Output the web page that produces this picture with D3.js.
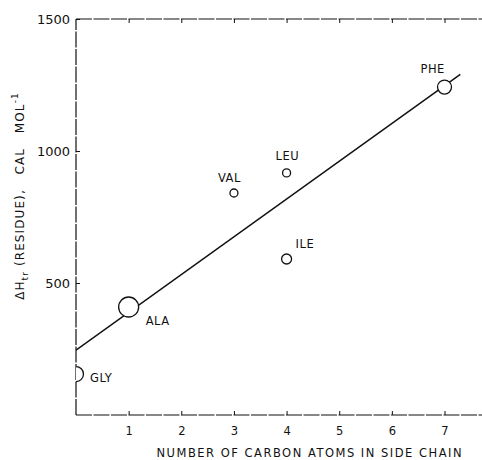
<!DOCTYPE html>
<html>
<head>
<meta charset="utf-8">
<script src="https://cdn.jsdelivr.net/npm/d3@7"></script>
<style>
  body { margin: 0; background: #fff; }
  svg text { font-family: "DejaVu Sans", sans-serif; fill: #111; }
</style>
</head>
<body>
<svg id="chart" width="482" height="460"></svg>
<script>
// residues: name, carbon atoms in side chain, enthalpy (cal/mol), symbol size
const residues = ['GLY', 'ALA', 'VAL', 'LEU', 'ILE', 'PHE'];
const carbons = [0, 1, 3, 4, 4, 7];
const enthalpy = [155, 409, 841, 917, 591, 1242];
const radius = [7.5, 10, 4, 4, 5, 7];

// fitted line end points
const fitX = [0, 7.3];
const fitY = [246, 1290];

const xTicks = [1, 2, 3, 4, 5, 6, 7];
const yTicks = [500, 1000, 1500];

const svg = d3.select('#chart');
const width = 482;
const height = 460;
const margin = { top: 19, right: -2, bottom: 45, left: 76 };

const x = d3.scaleLinear().domain([0, 7.75]).range([margin.left, width - margin.right]);
const y = d3.scaleLinear().domain([0, 1500]).range([height - margin.bottom, margin.top]);

const ink = '#111';

// clip for the plot area (GLY circle sits on the axis)
svg.append('clipPath').attr('id', 'plot-clip')
    .append('rect')
    .attr('x', x(0)).attr('y', y(1500))
    .attr('width', x(7.75) - x(0)).attr('height', y(0) - y(1500));

// frame
const frame = svg.append('g')
    .attr('fill', 'none')
    .attr('stroke', ink)
    .attr('stroke-width', 1.2)
    .attr('stroke-dasharray', '16,1.5');
frame.append('line').attr('x1', x(0)).attr('x2', x(7.75)).attr('y1', y(0)).attr('y2', y(0));
frame.append('line').attr('x1', x(0)).attr('x2', x(7.75)).attr('y1', y(1500)).attr('y2', y(1500));
frame.append('line').attr('x1', x(0)).attr('x2', x(0)).attr('y1', y(0)).attr('y2', y(1500));

// x axis: inward ticks, labels below
const xAxis = d3.axisBottom(x).tickValues(xTicks).tickSize(-4).tickPadding(12).tickFormat(d3.format('d'));
const gx = svg.append('g').attr('transform', `translate(0,${y(0)})`).call(xAxis);
gx.select('.domain').remove();
gx.selectAll('.tick line').attr('stroke', ink).attr('stroke-width', 1);
gx.selectAll('.tick text').attr('font-size', 11.5).attr('fill', ink);

// top ticks
const xTop = d3.axisTop(x).tickValues(xTicks).tickSize(-4).tickFormat('');
const gt = svg.append('g').attr('transform', `translate(0,${y(1500)})`).call(xTop);
gt.select('.domain').remove();
gt.selectAll('.tick line').attr('stroke', ink).attr('stroke-width', 1);

// y axis: inward ticks, labels left
const yAxis = d3.axisLeft(y).tickValues(yTicks).tickSize(-4).tickPadding(6).tickFormat(d3.format('d'));
const gy = svg.append('g').attr('transform', `translate(${x(0)},0)`).call(yAxis);
gy.select('.domain').remove();
gy.selectAll('.tick line').attr('stroke', ink).attr('stroke-width', 1);
gy.selectAll('.tick text').attr('font-size', 13).attr('fill', ink);

// fitted line
const plot = svg.append('g').attr('clip-path', 'url(#plot-clip)');
plot.append('path')
    .datum(fitX.map((d, i) => [d, fitY[i]]))
    .attr('fill', 'none')
    .attr('stroke', ink)
    .attr('stroke-width', 1.5)
    .attr('d', d3.line().x(d => x(d[0])).y(d => y(d[1])));

// residue points
const points = residues.map((name, i) => ({ name, c: carbons[i], h: enthalpy[i], r: radius[i] }));
plot.selectAll('circle')
    .data(points)
    .enter()
    .append('circle')
    .attr('cx', d => x(d.c))
    .attr('cy', d => y(d.h))
    .attr('r', d => d.r)
    .attr('fill', '#fff')
    .attr('stroke', ink)
    .attr('stroke-width', 1.3);

// label placement relative to each point
const labelOffset = {
    GLY: [14, 8], ALA: [17, 18], VAL: [-16, -11], LEU: [-11, -13],
    ILE: [9, -11], PHE: [-24, -14]
};
svg.selectAll('.pt-label')
    .data(points)
    .enter()
    .append('text')
    .attr('class', 'pt-label')
    .attr('x', d => x(d.c) + labelOffset[d.name][0])
    .attr('y', d => y(d.h) + labelOffset[d.name][1])
    .attr('font-size', 11.5)
    .attr('letter-spacing', 0.5)
    .text(d => d.name);

// axis titles
svg.append('text')
    .attr('x', 309)
    .attr('y', 457)
    .attr('text-anchor', 'middle')
    .attr('font-size', 11.5)
    .attr('textLength', 305)
    .attr('lengthAdjust', 'spacing')
    .text('NUMBER OF CARBON ATOMS IN SIDE CHAIN');

const yTitle = svg.append('text')
    .attr('transform', 'translate(24,196) rotate(-90)')
    .attr('text-anchor', 'middle')
    .attr('font-size', 12)
    .attr('letter-spacing', 1.1)
    .style('white-space', 'pre');
yTitle.append('tspan').text('ΔH');
yTitle.append('tspan').attr('font-size', 9).attr('dy', 4).text('tr');
yTitle.append('tspan').attr('dy', -4).text(' (RESIDUE),   CAL   MOL');
yTitle.append('tspan').attr('font-size', 9).attr('dy', -6).text('-1');
</script>
</body>
</html>
